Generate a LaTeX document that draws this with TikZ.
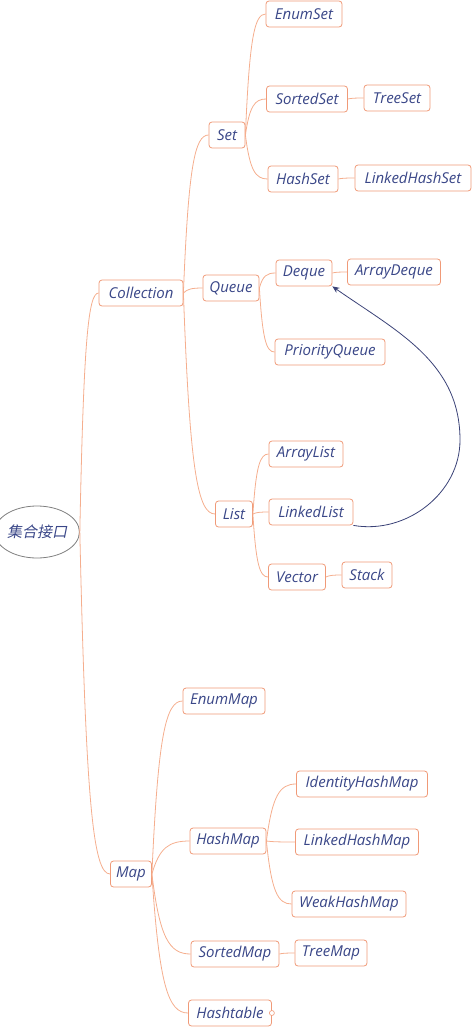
\documentclass[tikz,border=0pt]{standalone}
\usepackage{fontspec}
\setmainfont{Open Sans}
\newfontfamily\cjkfont[FakeSlant=0.2]{Noto Sans CJK SC}
\usetikzlibrary{calc,arrows.meta,shapes.geometric}
\definecolor{txt}{HTML}{3A4788}
\definecolor{bord}{HTML}{F09A78}
\definecolor{conn}{HTML}{F5AE8E}
\definecolor{arr}{HTML}{3A4277}
\tikzset{
  topic/.style={draw=bord, line width=0.8pt, rounded corners=3pt, fill=white,
    minimum height=26pt, inner xsep=1.5pt, inner ysep=0pt, text=txt,
    font=\fontsize{15}{17}\selectfont\itshape},
  conn/.style={draw=conn, line width=0.8pt},
}
\newcommand\mmlink[2]{\draw[conn] let \p1=(#1.east), \p2=(#2.west) in (\p1) .. controls ({\x1+0.2*(\x2-\x1)},{\y1+0.8*(\y2-\y1)}) and ({\x1+0.45*(\x2-\x1)},{\y2}) .. (\p2);}
\begin{document}
\begin{tikzpicture}[x=1pt,y=-1pt]
\useasboundingbox (0,0) rectangle (472,1027);
\node[draw=gray, line width=0.8pt, ellipse, minimum width=74pt, minimum height=52pt, inner sep=0pt, text=txt, font=\fontsize{15}{17}\selectfont\cjkfont] (root) at (37,532) {集合接口};
\node[topic, minimum width=84pt] (coll) at (141,293) {Collection};
\node[topic, minimum width=36pt] (set) at (227,135) {Set};
\node[topic, minimum width=56pt] (queue) at (231,288) {Queue};
\node[topic, minimum width=37pt] (list) at (234,514) {List};
\node[topic, minimum width=41pt] (map) at (131,874) {Map};
\node[topic, minimum width=76pt] (enumset) at (304,14) {EnumSet};
\node[topic, minimum width=81pt] (sortedset) at (307,99) {SortedSet};
\node[topic, minimum width=66pt] (treeset) at (397,98) {TreeSet};
\node[topic, minimum width=70pt] (hashset) at (303,179) {HashSet};
\node[topic, minimum width=116pt] (lhs) at (413,178) {LinkedHashSet};
\node[topic, minimum width=56pt] (deque) at (304,273) {Deque};
\node[topic, minimum width=93pt] (adeque) at (394,272) {ArrayDeque};
\node[topic, minimum width=110pt] (pq) at (330,352) {PriorityQueue};
\node[topic, minimum width=74pt] (alist) at (306,454) {ArrayList};
\node[topic, minimum width=84pt] (llist) at (311,512) {LinkedList};
\node[topic, minimum width=57pt] (vector) at (297,577) {Vector};
\node[topic, minimum width=50pt] (stack) at (367,575) {Stack};
\node[topic, minimum width=82pt] (enummap) at (224,701) {EnumMap};
\node[topic, minimum width=131pt] (ihm) at (362,784) {IdentityHashMap};
\node[topic, minimum width=76pt] (hashmap) at (228,841) {HashMap};
\node[topic, minimum width=123pt] (lhm) at (357,842) {LinkedHashMap};
\node[topic, minimum width=114pt] (whm) at (349,904) {WeakHashMap};
\node[topic, minimum width=88pt] (sortedmap) at (235,954) {SortedMap};
\node[topic, minimum width=72pt] (treemap) at (331,953) {TreeMap};
\node[topic, minimum width=83pt] (hashtable) at (230,1013) {Hashtable};
\node[draw=bord, fill=white, circle, inner sep=0pt, minimum size=5pt, line width=0.6pt] (collapse) at (hashtable.east) {};
\mmlink{root}{coll}
\mmlink{root}{map}
\mmlink{coll}{set}
\mmlink{coll}{queue}
\mmlink{coll}{list}
\mmlink{set}{enumset}
\mmlink{set}{sortedset}
\mmlink{set}{hashset}
\mmlink{sortedset}{treeset}
\mmlink{hashset}{lhs}
\mmlink{queue}{deque}
\mmlink{queue}{pq}
\mmlink{deque}{adeque}
\mmlink{list}{alist}
\mmlink{list}{llist}
\mmlink{list}{vector}
\mmlink{vector}{stack}
\mmlink{map}{enummap}
\mmlink{map}{hashmap}
\mmlink{map}{sortedmap}
\mmlink{map}{hashtable}
\mmlink{hashmap}{ihm}
\mmlink{hashmap}{lhm}
\mmlink{hashmap}{whm}
\mmlink{sortedmap}{treemap}
\coordinate (bend) at (460,440);
\draw[arr, line width=0.8pt, -{Stealth[length=7pt,width=6pt]}] (llist.south east) to[out=-10,in=-90] (bend) to[out=90,in=-35] (deque.south east);
\end{tikzpicture}
\end{document}
